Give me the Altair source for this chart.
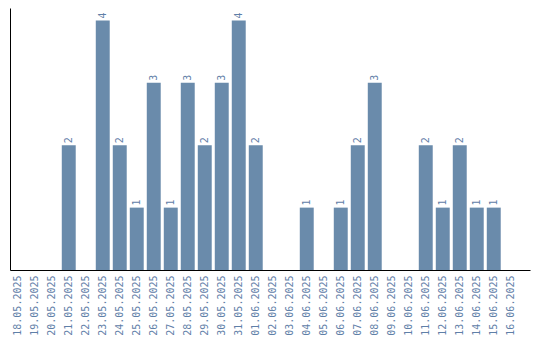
import altair as alt
import pandas as pd

dates = ["18.05.2025", "19.05.2025", "20.05.2025", "21.05.2025", "22.05.2025",
         "23.05.2025", "24.05.2025", "25.05.2025", "26.05.2025", "27.05.2025",
         "28.05.2025", "29.05.2025", "30.05.2025", "31.05.2025", "01.06.2025",
         "02.06.2025", "03.06.2025", "04.06.2025", "05.06.2025", "06.06.2025",
         "07.06.2025", "08.06.2025", "09.06.2025", "10.06.2025", "11.06.2025",
         "12.06.2025", "13.06.2025", "14.06.2025", "15.06.2025", "16.06.2025"]
counts = [0, 0, 0, 2, 0, 4, 2, 1, 3, 1, 3, 2, 3, 4, 2,
          0, 0, 1, 0, 1, 2, 3, 0, 0, 2, 1, 2, 1, 1, 0]

df = pd.DataFrame({"date": dates, "count": counts})

BAR = "#6a8bab"
TXT = "#5f80a8"
FONT = "DejaVu Sans Mono"

xscale = alt.Scale(paddingInner=0.18, paddingOuter=0.384, align=0.06)
x = alt.X("date:N", sort=dates, title=None, scale=xscale,
          axis=alt.Axis(labelAngle=270, ticks=False, domainColor="black",
                        labelColor=TXT, labelFont=FONT, labelFontSize=10,
                        labelPadding=5, grid=False))
y = alt.Y("count:Q", title=None,
          scale=alt.Scale(domain=[0, 4.2], nice=False),
          axis=alt.Axis(labels=False, ticks=False, domainColor="black", grid=False))

bars = alt.Chart(df).mark_bar(color=BAR).encode(x=x, y=y)
text = alt.Chart(df).transform_filter("datum.count > 0").mark_text(
    angle=270, align="left", baseline="middle", dx=2, color=TXT,
    font=FONT, fontSize=10
).encode(x=alt.X("date:N", sort=dates, scale=xscale), y="count:Q", text="count:Q")

chart = (bars + text).properties(
    width=520, height=262,
    autosize=alt.AutoSizeParams(type="none"),
    padding={"left": 10, "top": 8, "right": 10, "bottom": 70},
).configure_view(stroke=None)

chart.save("out.html", embed_options={"renderer": "svg", "actions": False})
